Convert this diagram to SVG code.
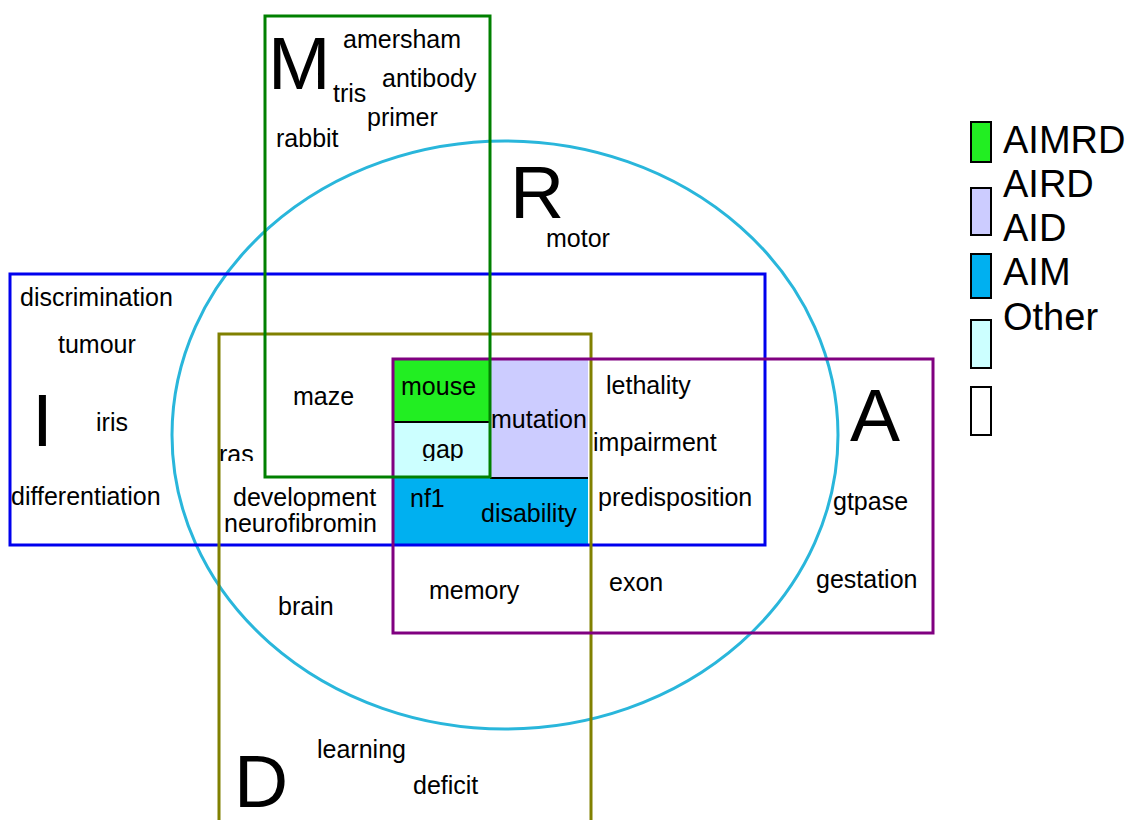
<svg xmlns="http://www.w3.org/2000/svg" width="1128" height="820" viewBox="0 0 1128 820">
  <style>
    .lbl { font-family: "Liberation Sans", Arial, sans-serif; font-size: 25px; fill: #000; }
    .big { font-family: "Liberation Sans", Arial, sans-serif; font-size: 75px; fill: #000; }
    .leg { font-family: "Liberation Sans", Arial, sans-serif; font-size: 38px; fill: #000; }
    .set { fill: none; stroke-width: 3; }
    .sep { stroke: #000; stroke-width: 2; }
    .key { stroke: #000; stroke-width: 2; }
  </style>
  <defs>
    <clipPath id="cutLow">
      <rect x="0" y="0" width="1128" height="461"/>
    </clipPath>
  </defs>
  <rect width="1128" height="820" fill="#fff"/>

  <!-- shaded intersection regions -->
  <g id="regions">
    <rect x="393" y="360" width="97" height="62" fill="#22ee22"/>
    <rect x="393" y="422" width="97" height="55" fill="#ccffff"/>
    <rect x="490" y="360" width="98" height="118" fill="#ccccff"/>
    <rect x="393" y="478" width="195" height="67" fill="#00b0f0"/>
    <line class="sep" x1="393" y1="422" x2="490" y2="422"/>
    <line class="sep" x1="490" y1="478" x2="588" y2="478"/>
  </g>

  <!-- set outlines -->
  <g id="set-R">
    <ellipse class="set" cx="505" cy="435" rx="333" ry="294" stroke="#29b6db"/>
    <text class="big" x="510" y="218">R</text>
  </g>
  <g id="set-I">
    <rect class="set" x="10" y="274" width="755" height="271" stroke="#0000ee"/>
    <text class="big" x="32" y="446">I</text>
  </g>
  <g id="set-D">
    <rect class="set" x="219" y="334" width="372" height="500" stroke="#808000"/>
    <text class="big" x="234" y="807">D</text>
  </g>
  <g id="set-A">
    <rect class="set" x="393" y="359" width="540" height="274" stroke="#800080"/>
    <text class="big" x="850" y="441">A</text>
  </g>
  <g id="set-M">
    <rect class="set" x="265" y="16" width="225" height="461" stroke="#008000"/>
    <text class="big" x="268" y="89">M</text>
  </g>

  <!-- term labels -->
  <g id="terms">
    <text class="lbl" x="343" y="48">amersham</text>
    <text class="lbl" x="382" y="87">antibody</text>
    <text class="lbl" x="333" y="102">tris</text>
    <text class="lbl" x="367" y="126">primer</text>
    <text class="lbl" x="276" y="147">rabbit</text>
    <text class="lbl" x="546" y="247">motor</text>
    <text class="lbl" x="20" y="306">discrimination</text>
    <text class="lbl" x="58" y="353">tumour</text>
    <text class="lbl" x="96" y="431">iris</text>
    <text class="lbl" x="11" y="505">differentiation</text>
    <text class="lbl" x="293" y="405">maze</text>
    <text class="lbl" x="219" y="463" clip-path="url(#cutLow)">ras</text>
    <text class="lbl" x="401" y="395">mouse</text>
    <text class="lbl" x="491" y="428">mutation</text>
    <text class="lbl" x="422" y="458" clip-path="url(#cutLow)">gap</text>
    <text class="lbl" x="606" y="394">lethality</text>
    <text class="lbl" x="593" y="451">impairment</text>
    <text class="lbl" x="233" y="506">development</text>
    <text class="lbl" x="224" y="532">neurofibromin</text>
    <text class="lbl" x="410" y="507">nf1</text>
    <text class="lbl" x="481" y="522">disability</text>
    <text class="lbl" x="598" y="506">predisposition</text>
    <text class="lbl" x="833" y="510">gtpase</text>
    <text class="lbl" x="429" y="599">memory</text>
    <text class="lbl" x="609" y="591">exon</text>
    <text class="lbl" x="816" y="588">gestation</text>
    <text class="lbl" x="278" y="615">brain</text>
    <text class="lbl" x="317" y="758">learning</text>
    <text class="lbl" x="413" y="794">deficit</text>
  </g>

  <!-- legend -->
  <g id="legend">
    <rect class="key" x="971" y="122" width="20" height="40" fill="#22ee22"/>
    <rect class="key" x="971" y="188" width="20" height="47" fill="#ccccff"/>
    <rect class="key" x="971" y="254" width="20" height="44" fill="#00b0f0"/>
    <rect class="key" x="971" y="320" width="20" height="48" fill="#ccffff"/>
    <rect class="key" x="971" y="387" width="20" height="48" fill="#ffffff"/>
    <text class="leg" x="1003" y="153">AIMRD</text>
    <text class="leg" x="1003" y="197">AIRD</text>
    <text class="leg" x="1003" y="241">AID</text>
    <text class="leg" x="1003" y="285">AIM</text>
    <text class="leg" x="1003" y="330">Other</text>
  </g>
</svg>
